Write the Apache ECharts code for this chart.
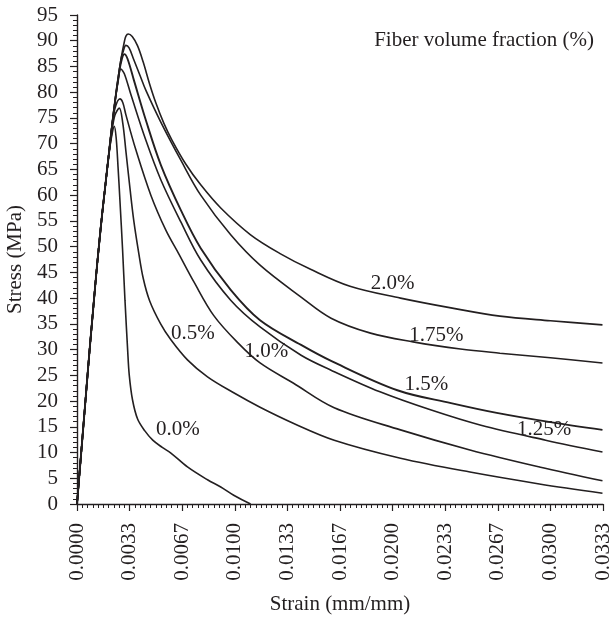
<!DOCTYPE html>
<html>
<head>
<meta charset="utf-8">
<script src="https://cdn.jsdelivr.net/npm/echarts@6/dist/echarts.min.js"></script>
<style>
  html, body { margin: 0; padding: 0; background: #ffffff; }
  #chart { width: 612px; height: 617px; }
</style>
</head>
<body>
<div id="chart"></div>
<script>
// Shared elastic rise of all specimens (strain in mm/mm, stress in MPa)
const riseStrain = [0, 0.0002, 0.0004, 0.0006, 0.0008, 0.0010, 0.0012, 0.0014, 0.0016, 0.0018, 0.0020, 0.0022, 0.0024, 0.0026, 0.0028, 0.0030];
const riseStress = [0, 7.5, 15, 22.5, 30, 37, 44, 50.5, 56.5, 62, 67.5, 73, 78, 82.5, 86.6, 89.8];

// Peak and softening branch of each fiber volume fraction
const strain00 = [0.0022, 0.00236, 0.00248, 0.0026, 0.00272, 0.00289, 0.00304, 0.00321, 0.00331, 0.00352, 0.00384, 0.0043, 0.0048, 0.0054, 0.00595, 0.0070, 0.00827, 0.00911, 0.00993, 0.0110];
const stress00 = [71.5, 73.4, 71.2, 65.5, 59.0, 49.3, 39.6, 29.9, 25.1, 20.2, 16.5, 14.2, 12.4, 11.0, 9.9, 7.2, 4.7, 3.3, 1.7, 0];

const strain05 = [0.0022, 0.0024, 0.00268, 0.0029, 0.0031, 0.00335, 0.0036, 0.0039, 0.0042, 0.0046, 0.0053, 0.00595, 0.0070, 0.00827, 0.00993, 0.0116, 0.0137, 0.0163, 0.0205, 0.0249, 0.0293, 0.0333];
const stress05 = [72.0, 75.5, 76.9, 74.0, 68.5, 61.5, 55.0, 49.0, 43.8, 39.5, 35.0, 31.9, 28.0, 24.7, 21.6, 18.8, 15.7, 12.4, 8.9, 6.2, 3.9, 2.1];

const strain10 = [0.0024, 0.00272, 0.0029, 0.0031, 0.00373, 0.00468, 0.00563, 0.00645, 0.0074, 0.00867, 0.0102, 0.0116, 0.0137, 0.0163, 0.0205, 0.0249, 0.0293, 0.0333];
const stress10 = [76.8, 78.7, 78.0, 75.6, 68.8, 60.0, 53.2, 48.6, 43.2, 36.6, 31.3, 27.4, 23.5, 18.7, 14.4, 10.5, 7.2, 4.5];

const strain125 = [0.0026, 0.00278, 0.0030, 0.00342, 0.00436, 0.00531, 0.00658, 0.00784, 0.00974, 0.0116, 0.0142, 0.0161, 0.0192, 0.0224, 0.0256, 0.0297, 0.0333];
const stress125 = [82.0, 84.5, 83.6, 79.5, 70.7, 63.0, 54.8, 47.4, 39.6, 34.4, 28.9, 26.0, 21.8, 18.3, 15.3, 12.4, 10.1];

const strain15 = [0.0028, 0.0030, 0.0032, 0.0036, 0.00436, 0.00531, 0.00658, 0.00784, 0.00974, 0.0116, 0.0142, 0.0161, 0.0203, 0.0237, 0.0266, 0.0300, 0.0333];
const stress15 = [85.9, 87.4, 86.5, 82.4, 74.6, 65.9, 57.1, 49.7, 41.6, 35.7, 30.9, 27.8, 22.1, 19.6, 17.7, 15.9, 14.4];

const strain175 = [0.0029, 0.0031, 0.0033, 0.0036, 0.0040, 0.00436, 0.00531, 0.00658, 0.00784, 0.00974, 0.0116, 0.0142, 0.0161, 0.0186, 0.0213, 0.0243, 0.0268, 0.0300, 0.0333];
const stress175 = [87.6, 89.1, 88.6, 86.3, 83.2, 80.4, 74.2, 66.8, 60.0, 52.3, 46.4, 40.2, 36.1, 33.2, 31.5, 30.1, 29.3, 28.4, 27.4];

const strain20 = [0.0031, 0.00325, 0.0035, 0.00384, 0.0042, 0.0046, 0.0050, 0.0055, 0.0060, 0.0069, 0.00784, 0.00911, 0.0110, 0.0129, 0.0148, 0.0173, 0.0205, 0.0237, 0.0268, 0.0300, 0.0333];
const stress20 = [90.9, 91.3, 90.8, 89.0, 85.8, 81.6, 77.9, 74.0, 70.8, 66.0, 62.0, 57.5, 52.3, 48.6, 45.6, 42.3, 40.0, 38.1, 36.5, 35.6, 34.8];

// Curve labels: text and anchor position (strain, stress)
const curveNames = ['0.0%', '0.5%', '1.0%', '1.25%', '1.5%', '1.75%', '2.0%'];
const labelStrain = [0.00639, 0.00734, 0.0120, 0.0296, 0.02214, 0.02277, 0.0200];
const labelStress = [14.4, 33.2, 29.7, 14.4, 23.3, 32.8, 42.9];

// Axis ticks
const strainTickStep = 1 / 300;
const strainMax = 1 / 30;
const stressMax = 95;
const stressTickStep = 5;

const INK = '#231f20';
const FONT = '"Liberation Serif", "Times New Roman", serif';

const branches = [
  [strain00, stress00], [strain05, stress05], [strain10, stress10], [strain125, stress125],
  [strain15, stress15], [strain175, stress175], [strain20, stress20]
];

// Each curve follows the shared rise until its own branch begins
function buildCurve(strains, stresses) {
  const pts = [];
  for (let i = 0; i < riseStrain.length; i++) {
    if (riseStrain[i] < strains[0]) pts.push([riseStrain[i], riseStress[i]]);
  }
  for (let i = 0; i < strains.length; i++) pts.push([strains[i], stresses[i]]);
  return pts;
}

const series = branches.map((b, k) => ({
  name: curveNames[k],
  type: 'line',
  data: buildCurve(b[0], b[1]),
  showSymbol: false,
  smooth: 0.35,
  lineStyle: { color: INK, width: k === 4 ? 1.9 : 1.6 },
  z: 2,
  markPoint: {
    symbol: 'circle',
    symbolSize: 0,
    silent: true,
    label: {
      show: true,
      position: 'inside',
      formatter: '{b}',
      fontFamily: FONT,
      fontSize: 21,
      color: INK
    },
    data: [{ name: curveNames[k], coord: [labelStrain[k], labelStress[k]] }]
  }
}));

const chart = echarts.init(document.getElementById('chart'), null, { renderer: 'canvas' });
chart.setOption({
  animation: false,
  backgroundColor: '#ffffff',
  title: {
    text: 'Fiber volume fraction (%)',
    right: 13,
    top: 25,
    textStyle: { fontFamily: FONT, fontSize: 21, fontWeight: 'normal', color: INK }
  },
  grid: { left: 77, right: 9, top: 15, bottom: 113, containLabel: false, outerBoundsMode: 'none' },
  xAxis: {
    type: 'value',
    min: 0,
    max: strainMax,
    interval: strainTickStep,
    name: 'Strain (mm/mm)',
    nameLocation: 'middle',
    nameGap: 90,
    nameTextStyle: { fontFamily: FONT, fontSize: 21, color: INK },
    axisLine: { show: true, onZero: false, lineStyle: { color: INK, width: 1.4 } },
    axisTick: { show: true, length: 7, lineStyle: { color: INK, width: 1.2 } },
    minorTick: { show: true, splitNumber: 10, length: 4, lineStyle: { color: INK, width: 1 } },
    splitLine: { show: false },
    minorSplitLine: { show: false },
    axisLabel: {
      rotate: 90,
      margin: 19,
      fontFamily: FONT,
      fontSize: 21,
      color: INK,
      showMaxLabel: true,
      formatter: v => v.toFixed(4)
    }
  },
  yAxis: {
    type: 'value',
    min: 0,
    max: stressMax,
    interval: stressTickStep,
    name: 'Stress (MPa)',
    nameLocation: 'middle',
    nameGap: 49,
    nameTextStyle: { fontFamily: FONT, fontSize: 21, color: INK },
    axisLine: { show: true, lineStyle: { color: INK, width: 1.4 } },
    axisTick: { show: true, length: 7, lineStyle: { color: INK, width: 1.2 } },
    minorTick: { show: true, splitNumber: 5, length: 4, lineStyle: { color: INK, width: 1 } },
    splitLine: { show: false },
    minorSplitLine: { show: false },
    axisLabel: { margin: 19, fontFamily: FONT, fontSize: 21, color: INK, showMaxLabel: true }
  },
  series: series
});
</script>
</body>
</html>
